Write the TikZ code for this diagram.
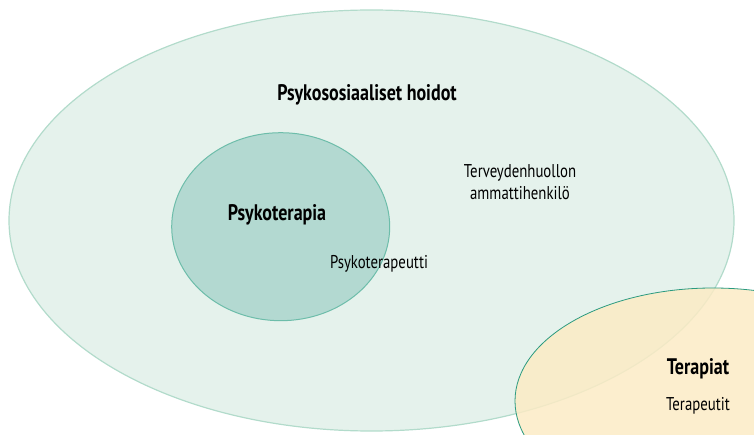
\documentclass[tikz,border=0pt]{standalone}
\usepackage{fontspec}
\setmainfont{PT Sans}[FakeStretch=0.8]
\usetikzlibrary{shapes.geometric}
\definecolor{outerfill}{HTML}{E5F2EC}
\definecolor{outerline}{HTML}{B2DBCB}
\definecolor{innerfill}{HTML}{B3D9D1}
\definecolor{innerline}{HTML}{6DBDAA}
\definecolor{terfill}{HTML}{FCEBC5}
\definecolor{terline}{HTML}{2A9A7F}
\tikzstyle{outer} = [ellipse, inner sep=0pt, minimum width=725pt, minimum height=421pt, draw=outerline, line width=1.2pt, fill=outerfill]
\tikzstyle{inner} = [ellipse, inner sep=0pt, minimum width=218pt, minimum height=188pt, draw=innerline, line width=1pt, fill=innerfill]
\tikzstyle{ter} = [ellipse, inner sep=0pt, minimum width=396pt, minimum height=226pt, draw=terline, line width=0.8pt, fill=terfill, fill opacity=0.85]
\tikzstyle{title} = [font=\bfseries\fontsize{22.5}{26}\selectfont, text centered]
\tikzstyle{label} = [font=\fontsize{18.5}{22}\selectfont, text centered, align=center]
\begin{document}
\begin{tikzpicture}[x=1pt, y=-1pt]
\useasboundingbox (0,0) rectangle (754,435);
\clip (0,0) rectangle (754,435);
\node (hoidot) [outer] at (371.5,220.5) {};
\node (terapia) [inner] at (280.7,226.7) {};
\node (terapiat) [ter] at (713,401) {};

\node (hoidotT) [title] at (367,95) {Psykososiaaliset hoidot};
\node (ammatti) [label] at (520,182) {Terveydenhuollon\\ammattihenkilö};
\node (terapiaT) [title] at (277,215) {Psykoterapia};
\node (terapeutti) [label] at (379,264) {Psykoterapeutti};
\node (terapiatT) [title] at (698,369) {Terapiat};
\node (terapeutit) [label] at (698,406) {Terapeutit};
\end{tikzpicture}
\end{document}
